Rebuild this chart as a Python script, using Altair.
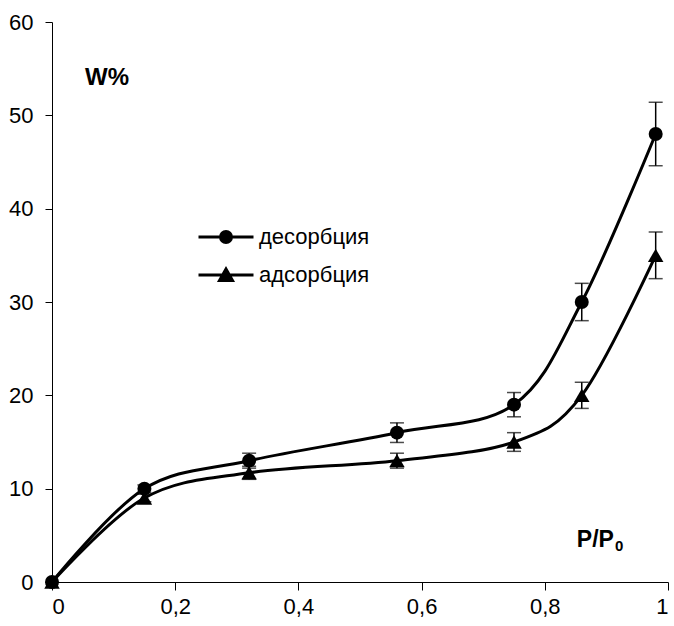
import altair as alt
import pandas as pd

# ---- data ----
pressure = [0, 0.15, 0.32, 0.56, 0.75, 0.86, 0.98]
desorption = [0, 10, 13, 16, 19, 30, 48]
desorption_err = [0, 0.4, 0.8, 1.05, 1.3, 2.0, 3.4]
adsorption = [0, 9, 11.7, 13, 15, 20, 35]
adsorption_err = [0, 0.4, 0.7, 0.8, 1.0, 1.4, 2.5]
series_names = ["десорбция", "адсорбция"]
x_ticks = [0, 0.2, 0.4, 0.6, 0.8, 1]
y_ticks = [0, 10, 20, 30, 40, 50, 60]

FONT = "Liberation Sans"

rows = []
for name, vals, errs in [(series_names[0], desorption, desorption_err),
                         (series_names[1], adsorption, adsorption_err)]:
    for p, v, e in zip(pressure, vals, errs):
        rows.append({"p": p, "w": v, "err": e, "series": name})
df = pd.DataFrame(rows)
one = pd.DataFrame({"k": [0]})

base = alt.Chart(df).encode(
    x=alt.X("p:Q", scale=alt.Scale(domain=[0, 1], nice=False),
            axis=alt.Axis(values=x_ticks, title=None, grid=False,
                          labelExpr="replace(format(datum.value, '~g'), '.', ',')",
                          tickSize=8, labelPadding=6)),
    y=alt.Y("w:Q", scale=alt.Scale(domain=[0, 60], nice=False),
            axis=alt.Axis(values=y_ticks, title=None, grid=False,
                          tickSize=7, labelPadding=12)),
)

lines = base.mark_line(color="black", strokeWidth=3, interpolate="cardinal").encode(
    detail="series:N")

err = base.transform_filter("datum.err > 0").transform_calculate(
    lo="datum.w - datum.err", hi="datum.w + datum.err")
err_rule = err.mark_rule(color="black", strokeWidth=1.5).encode(
    y="lo:Q", y2="hi:Q")
cap_lo = err.mark_tick(color="black", thickness=1.5, size=14, orient="horizontal").encode(y="lo:Q")
cap_hi = err.mark_tick(color="black", thickness=1.5, size=14, orient="horizontal").encode(y="hi:Q")

circles = base.transform_filter(alt.datum.series == series_names[0]).mark_point(
    shape="circle", filled=True, color="black", opacity=1, size=196)
triangles = base.transform_filter(alt.datum.series == series_names[1]).mark_point(
    shape="triangle-up", filled=True, color="black", opacity=1, size=240)


def ring(r):
    return f"M{-r},0A{r},{r},0,1,1,{r},0A{r},{r},0,1,1,{-r},0Z"


def tri(k):
    cy = 0.0
    return (f"M{-0.236 * k},{cy + 0.2 * k}L{0.236 * k},{cy + 0.2 * k}"
            f"L0,{cy - 0.22 * k}Z")


# legend symbols: horizontal line with a solid marker drawn by strokes
circ_path = "M-1,0H1" + ring(0.2) + ring(0.13) + ring(0.06) + ring(0.015)
tri_path = "M-1,0H1" + tri(1.0) + tri(0.6) + tri(0.25)

legend_layer = base.mark_point(filled=False, color="black", opacity=0, strokeWidth=3).encode(
    shape=alt.Shape("series:N",
                    scale=alt.Scale(domain=series_names, range=[circ_path, tri_path]),
                    legend=alt.Legend(title=None, orient="none", legendX=145, legendY=203,
                                      symbolSize=3025, symbolStrokeWidth=3,
                                      symbolStrokeColor="black",
                                      symbolOpacity=1, clipHeight=24, rowPadding=14,
                                      padding=0, labelOffset=4, labelFont=FONT,
                                      labelFontSize=22, labelColor="black")))

w_label = alt.Chart(one).mark_text(text="W%", font=FONT, fontSize=24, fontWeight="bold",
                                   align="left", baseline="alphabetic", color="black").encode(
    x=alt.datum(0.0536), y=alt.datum(53.3))
pp_label = alt.Chart(one).mark_text(text="P/P", font=FONT, fontSize=23, fontWeight="bold",
                                    align="left", baseline="alphabetic", color="black").encode(
    x=alt.datum(0.852), y=alt.datum(3.75))
pp_sub = alt.Chart(one).mark_text(text="0", font=FONT, fontSize=15, fontWeight="bold",
                                  align="left", baseline="alphabetic", color="black").encode(
    x=alt.datum(0.914), y=alt.datum(3.3))

chart = alt.layer(lines, err_rule, cap_lo, cap_hi, circles, triangles, legend_layer,
                  w_label, pp_label, pp_sub).properties(
    width=616, height=560,
    padding={"left": 52, "top": 22, "right": 6, "bottom": 44},
    autosize=alt.AutoSizeParams(type="none"),
    background="white",
).configure_view(stroke=None).configure_axis(
    domainColor="black", tickColor="black", labelColor="black",
    labelFont=FONT, labelFontSize=22, domainWidth=1, tickWidth=1,
)

chart.save("out.html", embed_options={"renderer": "svg", "actions": False})
